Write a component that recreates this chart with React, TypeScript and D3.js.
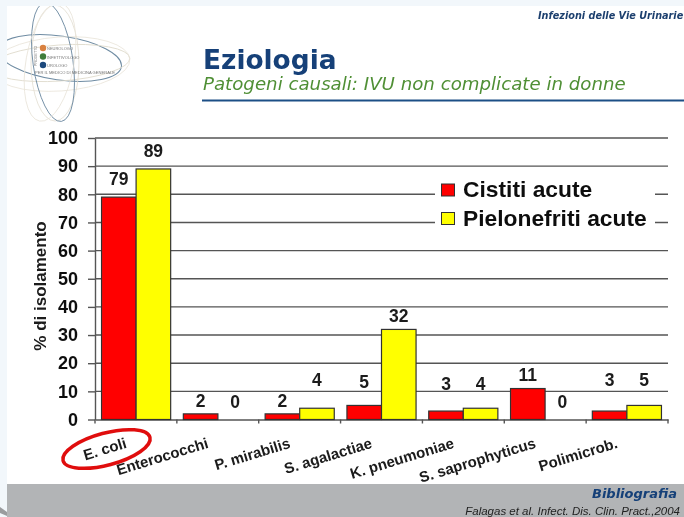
import React, { useEffect, useRef } from 'react';
import * as d3 from 'd3';

const categories = ['E. coli', 'Enterococchi', 'P. mirabilis', 'S. agalactiae', 'K. pneumoniae', 'S. saprophyticus', 'Polimicrob.'];
const seriesNames = ['Cistiti acute', 'Pielonefriti acute'];
const seriesColors = ['#ff0000', '#ffff00'];
const cistiti = [79, 2, 2, 5, 3, 11, 3];
const pielonefriti = [89, 0, 4, 32, 4, 0, 5];
const yTicks = [0, 10, 20, 30, 40, 50, 60, 70, 80, 90, 100];
const logoLines = ['NEUROLOGO', 'INFETTIVOLOGO', 'UROLOGO'];
const logoColors = ['#d9813f', '#3f7d3a', '#1c4a7d'];

// the value labels were placed by hand on the slide, so each has its own lift above the bar
const cistitiLift = [12, 7, 7, 17, 21, 7.5, 25];
const pielonefritiLift = [12, 12, 22, 7, 18, 12, 19];

const FONT = '"Liberation Sans", Arial, sans-serif';
const SLIDE_FONT = '"DejaVu Sans", Verdana, sans-serif';
const NAVY = '#123f78';

const App = () => {
  const svgRef = useRef<SVGSVGElement>(null);

  useEffect(() => {
    const root = d3.select(svgRef.current);
    root.selectAll('*').remove();

    const defs = root.append('defs');
    defs.append('filter').attr('id', 'soft')
      .append('feGaussianBlur').attr('stdDeviation', 0.45);
    defs.append('clipPath').attr('id', 'slide')
      .append('rect').attr('x', 7).attr('y', 6).attr('width', 677).attr('height', 478);

    const svg = root.append('g').attr('filter', 'url(#soft)');

    // slide background
    svg.append('rect').attr('width', 684).attr('height', 517).attr('fill', '#f2f7fb');
    svg.append('rect').attr('x', 7).attr('y', 6).attr('width', 677).attr('height', 478).attr('fill', '#fff');
    svg.append('rect').attr('x', 7).attr('y', 484).attr('width', 677).attr('height', 33).attr('fill', '#b2b4b6');
    svg.append('path').attr('d', 'M0,507 L7,512 L7,516 L0,513 Z').attr('fill', '#9a9c9e');

    // logo
    const logo = svg.append('g').attr('clip-path', 'url(#slide)');
    [
      { cx: 60, cy: 58, rx: 62, ry: 22, rot: 8, c: '#6f8ca3', w: 1 },
      { cx: 60, cy: 63, rx: 70, ry: 18, rot: -4, c: '#e0dbcd', w: 0.9 },
      { cx: 60, cy: 64, rx: 70, ry: 27, rot: 176, c: '#e9e4d9', w: 0.8 },
      { cx: 55, cy: 63, rx: 58, ry: 24, rot: 90, c: '#e2ddd0', w: 0.8 },
      { cx: 53, cy: 62, rx: 60, ry: 20, rot: 82, c: '#6f8ca3', w: 0.9 },
      { cx: 50, cy: 62, rx: 60, ry: 24, rot: 100, c: '#e9e4d9', w: 0.8 },
    ].forEach(e => {
      logo.append('ellipse')
        .attr('cx', e.cx).attr('cy', e.cy).attr('rx', e.rx).attr('ry', e.ry)
        .attr('transform', `rotate(${e.rot} ${e.cx} ${e.cy})`)
        .attr('fill', 'none').attr('stroke', e.c).attr('stroke-width', e.w);
    });
    logoLines.forEach((t, i) => {
      logo.append('circle').attr('cx', 43).attr('cy', 48 + i * 8.5).attr('r', 3.2).attr('fill', logoColors[i]);
      logo.append('text').attr('x', 47).attr('y', 50 + i * 8.5)
        .attr('font-family', FONT).attr('font-size', 4).attr('fill', '#777').text(t);
    });
    logo.append('text').attr('x', 35).attr('y', 74)
      .attr('font-family', FONT).attr('font-size', 4.1).attr('fill', '#777')
      .text('PER IL MEDICO DI MEDICINA GENERALE');
    logo.append('text').attr('transform', 'translate(37,66) rotate(-90)')
      .attr('font-family', FONT).attr('font-size', 3.6).attr('fill', '#777').text('PROGETTO');

    // header
    svg.append('text').attr('x', 538).attr('y', 19)
      .attr('font-family', SLIDE_FONT).attr('font-size', 9.7)
      .attr('font-weight', 700).attr('font-style', 'italic').attr('fill', '#1d3f6e')
      .text('Infezioni delle Vie Urinarie');
    svg.append('text').attr('x', 203).attr('y', 69)
      .attr('font-family', SLIDE_FONT).attr('font-size', 26.4)
      .attr('font-weight', 700).attr('fill', NAVY).text('Eziologia');
    svg.append('text').attr('x', 203).attr('y', 90)
      .attr('font-family', SLIDE_FONT).attr('font-size', 18.2)
      .attr('font-style', 'italic').attr('fill', '#4f8f35')
      .text('Patogeni causali: IVU non complicate in donne');
    svg.append('rect').attr('x', 202).attr('y', 99.5).attr('width', 482).attr('height', 2).attr('fill', '#1d4f86');

    // chart
    const left = 95;
    const right = 668;
    const top = 138;
    const bottom = 419.5;

    const x = d3.scaleBand().domain(categories).range([left, right]).paddingInner(0.155).paddingOuter(0.08);
    const xStep = d3.scaleBand().domain(seriesNames).range([0, x.bandwidth()]);
    const y = d3.scaleLinear().domain([0, 100]).range([bottom, top]);

    const chart = svg.append('g');

    chart.append('g').selectAll('line').data(yTicks.filter(d => d > 0)).enter().append('line')
      .attr('x1', left).attr('x2', right)
      .attr('y1', d => y(d)).attr('y2', d => y(d))
      .attr('stroke', '#555').attr('stroke-width', 1.4);

    const bands = d3.scaleBand().domain(categories).range([left, right]);

    const xAxis = chart.append('g')
      .attr('transform', `translate(0,${bottom})`)
      .call(d3.axisBottom(bands).tickSize(0).tickSizeOuter(0).tickPadding(0));
    xAxis.select('.domain').attr('stroke', '#555').attr('stroke-width', 1.4);
    xAxis.selectAll('.tick text')
      .attr('font-family', FONT).attr('font-size', 15).attr('font-weight', 700).attr('fill', '#1a1a1a')
      .attr('text-anchor', 'end').attr('dy', null).attr('y', null)
      .attr('transform', 'translate(-8.5,28) rotate(-17)');
    // tick marks sit on the band edges, not the centres
    chart.append('g').selectAll('line').data([...categories.map(c => bands(c) as number), right]).enter().append('line')
      .attr('x1', d => d).attr('x2', d => d).attr('y1', bottom).attr('y2', bottom + 4)
      .attr('stroke', '#555').attr('stroke-width', 1.4);

    const yAxis = chart.append('g')
      .attr('transform', `translate(${left},0)`)
      .call(d3.axisLeft(y).tickValues(yTicks).tickSize(7).tickSizeOuter(0).tickPadding(10));
    yAxis.select('.domain').attr('stroke', '#555').attr('stroke-width', 1.4);
    yAxis.selectAll('.tick line').attr('stroke', '#555').attr('stroke-width', 1.4);
    yAxis.selectAll('.tick text')
      .attr('font-family', FONT).attr('font-size', 18).attr('font-weight', 700).attr('fill', '#111');

    svg.append('text')
      .attr('transform', 'translate(46,286) rotate(-90)')
      .attr('text-anchor', 'middle').attr('font-family', FONT).attr('font-size', 17)
      .attr('font-weight', 700).attr('fill', '#1a1a1a')
      .text('% di isolamento');

    // bars
    [cistiti, pielonefriti].forEach((values, s) => {
      const name = seriesNames[s];
      const lift = s === 0 ? cistitiLift : pielonefritiLift;
      const group = chart.append('g');
      values.forEach((v, i) => {
        const bx = (x(categories[i]) as number) + (xStep(name) as number);
        if (v > 0) {
          group.append('rect')
            .attr('x', bx).attr('y', y(v))
            .attr('width', xStep.bandwidth()).attr('height', bottom - y(v))
            .attr('fill', seriesColors[s]).attr('stroke', '#333').attr('stroke-width', 1.2);
        }
        group.append('text')
          .attr('x', bx + xStep.bandwidth() / 2).attr('y', y(v) - lift[i])
          .attr('text-anchor', 'middle').attr('font-family', FONT).attr('font-size', 17.5)
          .attr('font-weight', 700).attr('fill', '#1a1a1a')
          .text(v);
      });
    });

    // legend
    const legend = svg.append('g');
    legend.append('rect').attr('x', 435).attr('y', 172).attr('width', 220).attr('height', 62).attr('fill', '#fff');
    seriesNames.forEach((name, i) => {
      const ly = 190 + i * 28.5;
      legend.append('rect').attr('x', 441.5).attr('y', ly - 6).attr('width', 13).attr('height', 12)
        .attr('fill', seriesColors[i]).attr('stroke', '#333').attr('stroke-width', 1);
      legend.append('text').attr('x', 463).attr('y', ly + 7)
        .attr('font-family', FONT).attr('font-size', 22.8).attr('font-weight', 700).attr('fill', '#111')
        .text(name);
    });

    // highlight around the first category
    svg.append('ellipse')
      .attr('cx', 106.5).attr('cy', 449).attr('rx', 45).attr('ry', 16)
      .attr('transform', 'rotate(-15 106.5 449)')
      .attr('fill', 'none').attr('stroke', '#e01010').attr('stroke-width', 3.5);

    // footer
    svg.append('text').attr('x', 677).attr('y', 498).attr('text-anchor', 'end')
      .attr('font-family', SLIDE_FONT).attr('font-size', 13)
      .attr('font-weight', 700).attr('font-style', 'italic').attr('fill', NAVY).text('Bibliografia');
    svg.append('text').attr('x', 680).attr('y', 515).attr('text-anchor', 'end')
      .attr('font-family', FONT).attr('font-size', 11.5)
      .attr('font-style', 'italic').attr('fill', '#222')
      .text('Falagas et al. Infect. Dis. Clin. Pract.,2004');
  }, []);

  return <svg ref={svgRef} width={684} height={517} style={{ position: 'absolute', left: 0, top: 0, display: 'block' }} />;
};

export default App;
